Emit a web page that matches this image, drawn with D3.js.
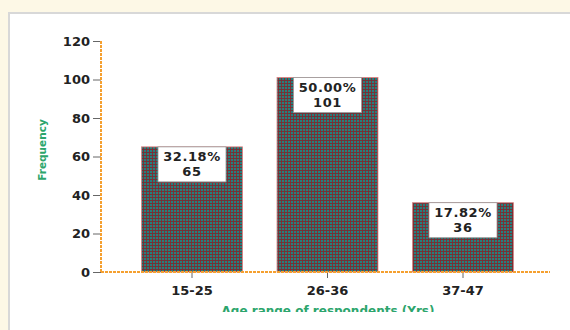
<!DOCTYPE html>
<html>
<head>
<meta charset="utf-8">
<script src="https://cdn.jsdelivr.net/npm/d3@7"></script>
<style>
  body { margin: 0; background: #fdf8e6; }
  svg { display: block; }
</style>
</head>
<body>
<script>
var categories = ['15-25', '26-36', '37-47'];
var frequency = [65, 101, 36];
var percents = ['32.18%', '50.00%', '17.82%'];
var yTicks = [0, 20, 40, 60, 80, 100, 120];

var FONT = 'DejaVu Sans, Verdana, sans-serif';

var svg = d3.select('body')
.append('svg')
    .attr('width', 570)
    .attr('height', 330);

// white panel with soft gray edge
svg.append('rect')
    .attr('x', 9).attr('y', 13)
    .attr('width', 570).attr('height', 330)
    .attr('fill', '#fff')
    .attr('stroke', '#d8d8d8')
    .attr('stroke-width', 2);

// checker pattern for bars (teal / red)
var defs = svg.append('defs');
var pat = defs.append('pattern')
    .attr('id', 'chk')
    .attr('width', 3).attr('height', 3)
    .attr('patternUnits', 'userSpaceOnUse');
pat.append('rect').attr('width', 3).attr('height', 3).attr('fill', '#23807e');
pat.append('rect').attr('x', 2).attr('y', 0).attr('width', 1).attr('height', 3).attr('fill', '#8a2c33');
pat.append('rect').attr('x', 0).attr('y', 2).attr('width', 3).attr('height', 1).attr('fill', '#6e3439');

var y = d3.scaleLinear().domain([0, 120]).range([272, 41]);
var x = d3.scaleBand().domain(categories)
    .range([124.25, 530.75])
    .paddingInner(0.255)
    .paddingOuter(0.1275);

// bars
svg.selectAll('rect.bar')
.data(frequency).enter()
.append('rect')
    .attr('class', 'bar')
    .attr('x', function(d, i){ return x(categories[i]); })
    .attr('y', function(d){ return y(d); })
    .attr('width', x.bandwidth())
    .attr('height', function(d){ return y(0) - y(d); })
    .attr('fill', 'url(#chk)')
    .attr('stroke', '#d98080')
    .attr('stroke-width', 0.8);

// label boxes
var lab = svg.selectAll('g.lab')
.data(frequency).enter()
.append('g')
    .attr('class', 'lab')
    .attr('transform', function(d, i){
        return 'translate(' + (x(categories[i]) + x.bandwidth() / 2) + ',' + y(d) + ')';
    });
lab.append('rect')
    .attr('x', -34).attr('y', 0)
    .attr('width', 68).attr('height', 35)
    .attr('fill', '#fff')
    .attr('stroke', '#999')
    .attr('stroke-width', 0.8);
lab.append('text')
    .attr('y', 14)
    .text(function(d, i){ return percents[i]; });
lab.append('text')
    .attr('y', 29)
    .text(function(d){ return d; });
lab.selectAll('text')
    .attr('text-anchor', 'middle')
    .attr('font-family', FONT)
    .attr('font-weight', 'bold')
    .attr('font-size', 13)
    .attr('letter-spacing', 0.6)
    .attr('fill', '#222');

// y axis
var yAxis = svg.append('g')
    .attr('transform', 'translate(101,0)')
    .call(d3.axisLeft(y).tickValues(yTicks).tickSize(8).tickPadding(3));
// x axis
var xAxis = svg.append('g')
    .attr('transform', 'translate(0,272)')
    .call(d3.axisBottom(x).tickSize(6).tickPadding(8).tickSizeOuter(0));

xAxis.select('.domain').remove();
yAxis.select('.domain').remove();
svg.append('line')
    .attr('x1', 101).attr('x2', 550)
    .attr('y1', 272).attr('y2', 272)
    .attr('stroke', '#f5a030')
    .attr('stroke-width', 2)
    .attr('stroke-dasharray', '3,1');
svg.append('line')
    .attr('x1', 101).attr('x2', 101)
    .attr('y1', 41).attr('y2', 272)
    .attr('stroke', '#f5a030')
    .attr('stroke-width', 2)
    .attr('stroke-dasharray', '3,1');

svg.selectAll('.tick line').attr('stroke', '#666');
svg.selectAll('.tick text')
    .attr('font-family', FONT)
    .attr('font-weight', 'bold')
    .attr('font-size', 13)
    .attr('fill', '#222');

// axis titles
svg.append('text')
    .attr('transform', 'translate(46,150) rotate(-90)')
    .attr('text-anchor', 'middle')
    .attr('font-family', FONT)
    .attr('font-weight', 'bold')
    .attr('font-size', 10.5)
    .attr('fill', '#2ca56c')
    .text('Frequency');

defs.append('clipPath').attr('id', 'cut')
.append('rect').attr('x', 0).attr('y', 0).attr('width', 570).attr('height', 312);
svg.append('text')
    .attr('clip-path', 'url(#cut)')
    .attr('x', 328).attr('y', 315)
    .attr('text-anchor', 'middle')
    .attr('font-family', FONT)
    .attr('font-weight', 'bold')
    .attr('font-size', 12)
    .attr('fill', '#2ca56c')
    .text('Age range of respondents (Yrs)');
</script>
</body>
</html>
